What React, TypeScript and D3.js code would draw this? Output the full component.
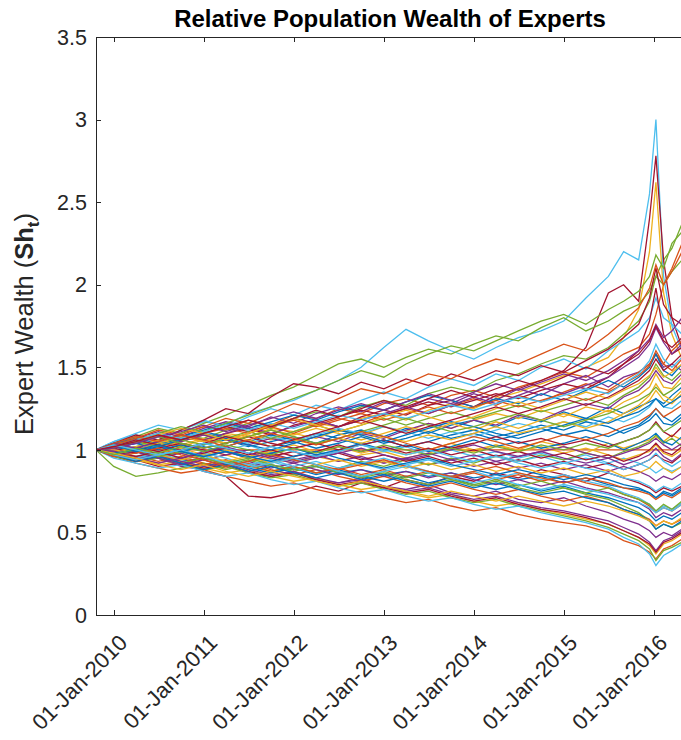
import * as d3 from 'd3';
import React from 'react';

// sample dates (quarterly, then denser near the early-2016 spike)
const sampleDates = [
  '2009-10-21', '2010-01-01', '2010-04-01', '2010-07-01', '2010-10-01',
  '2011-01-01', '2011-04-01', '2011-07-01', '2011-10-01',
  '2012-01-01', '2012-04-01', '2012-07-01', '2012-10-01',
  '2013-01-01', '2013-04-01', '2013-07-01', '2013-10-01',
  '2014-01-01', '2014-04-01', '2014-07-01', '2014-10-01',
  '2015-01-01', '2015-04-01', '2015-07-01', '2015-09-01', '2015-11-01', '2015-12-15',
  '2016-01-10', '2016-02-10', '2016-03-15', '2016-04-25'
];

const expert01 = [1.00,0.98,0.95,0.97,0.93,0.95,0.92,0.89,0.91,0.88,0.90,0.86,0.88,0.85,0.87,0.84,0.86,0.83,0.85,0.82,0.84,0.80,0.83,0.79,0.77,0.76,0.74,0.71,0.75,0.73,0.77];
const expert02 = [1.00,1.04,1.08,1.05,1.10,1.14,1.12,1.18,1.15,1.21,1.19,1.25,1.22,1.28,1.31,1.27,1.33,1.36,1.32,1.38,1.42,1.47,1.44,1.52,1.58,1.62,1.70,1.82,2.00,2.10,2.25];
const expert03 = [1.00,1.02,1.05,1.03,1.07,1.06,1.10,1.08,1.13,1.11,1.16,1.14,1.19,1.22,1.18,1.24,1.28,1.25,1.31,1.35,1.40,1.45,1.50,1.56,1.68,1.85,2.20,2.62,1.95,1.70,1.55];
const expert04 = [1.00,0.96,0.93,0.95,0.90,0.88,0.91,0.86,0.84,0.87,0.82,0.80,0.83,0.78,0.76,0.79,0.74,0.72,0.75,0.70,0.68,0.71,0.66,0.62,0.58,0.55,0.51,0.47,0.50,0.48,0.52];
const expert05 = [1.00,1.03,1.01,1.06,1.09,1.07,1.12,1.16,1.13,1.19,1.23,1.20,1.26,1.30,1.27,1.34,1.38,1.35,1.42,1.46,1.52,1.57,1.55,1.62,1.70,1.78,1.90,2.05,2.15,2.22,2.37];
const expert06 = [1.00,1.05,1.09,1.06,1.12,1.17,1.15,1.22,1.26,1.30,1.36,1.42,1.50,1.62,1.73,1.66,1.60,1.55,1.62,1.68,1.72,1.78,1.92,2.05,2.20,2.15,2.55,3.00,2.05,1.75,1.60];
const expert07 = [1.00,1.02,0.99,1.04,1.08,1.05,1.10,1.13,1.09,1.15,1.18,1.14,1.20,1.24,1.21,1.27,1.30,1.26,1.33,1.37,1.42,1.48,1.62,1.95,2.00,1.90,2.40,2.78,2.15,1.80,1.62];
const expert08 = [1.00,1.01,1.04,1.02,0.99,1.03,1.06,1.02,1.05,1.08,1.04,1.09,1.12,1.08,1.13,1.10,1.15,1.18,1.14,1.20,1.17,1.23,1.19,1.26,1.22,1.26,1.29,1.31,1.28,1.33,1.38];
const expert09 = [1.00,1.00,1.00,1.00,1.00,1.00,1.00,1.00,1.00,1.00,1.00,1.00,1.00,1.00,1.00,1.00,1.00,1.00,1.00,1.00,1.00,1.00,1.00,1.00,1.00,1.00,1.00,1.00,1.00,1.00,1.00];
const expert10 = [1.00,0.97,1.00,0.96,0.98,0.94,0.97,0.93,0.95,0.92,0.96,0.93,0.97,0.99,0.95,0.98,1.02,0.99,1.03,1.00,1.05,1.02,0.98,1.04,1.01,1.04,1.06,1.08,1.05,1.09,1.06];
const expert11 = [1.00,1.03,1.07,1.11,1.08,1.13,1.17,1.14,1.20,1.16,1.22,1.26,1.23,1.29,1.25,1.31,1.28,1.34,1.30,1.37,1.33,1.40,1.45,1.38,1.44,1.47,1.52,1.58,1.50,1.52,1.48];
const expert12 = [1.00,1.04,1.08,1.13,1.10,1.16,1.21,1.27,1.33,1.38,1.45,1.52,1.55,1.50,1.56,1.61,1.58,1.64,1.69,1.66,1.74,1.80,1.72,1.78,1.84,1.88,1.96,2.05,2.00,2.08,2.15];
const expert13 = [1.00,0.99,1.02,1.05,1.01,1.04,1.00,1.03,0.98,1.01,0.97,1.00,1.03,0.99,1.02,0.97,1.00,0.96,0.99,0.95,0.98,0.94,0.97,0.92,0.95,0.92,0.89,0.86,0.89,0.87,0.90];
const expert14 = [1.00,0.98,0.94,0.90,0.92,0.87,0.84,0.72,0.71,0.74,0.78,0.75,0.80,0.77,0.82,0.79,0.84,0.81,0.86,0.83,0.88,0.85,0.81,0.86,0.83,0.80,0.77,0.74,0.77,0.75,0.78];
const expert15 = [1.00,1.02,1.06,1.03,1.07,1.11,1.08,1.05,1.09,1.06,1.10,1.07,1.03,1.06,1.02,1.05,1.09,1.12,1.08,1.11,1.15,1.12,1.17,1.14,1.10,1.14,1.18,1.22,1.16,1.15,1.20];
const expert16 = [1.00,0.99,0.96,0.93,0.96,0.92,0.89,0.92,0.88,0.85,0.88,0.84,0.81,0.84,0.80,0.77,0.80,0.76,0.73,0.76,0.72,0.69,0.72,0.68,0.64,0.61,0.58,0.54,0.57,0.55,0.58];
const expert17 = [1.00,1.02,1.00,1.04,1.02,1.06,1.04,1.09,1.06,1.10,1.07,1.12,1.09,1.14,1.11,1.16,1.13,1.18,1.22,1.19,1.24,1.20,1.26,1.23,1.29,1.33,1.38,1.46,1.38,1.37,1.44];
const expert18 = [1.00,0.98,1.01,0.97,1.00,0.96,0.99,0.95,0.98,0.94,0.97,0.93,0.96,0.92,0.95,0.91,0.94,0.90,0.93,0.89,0.92,0.88,0.91,0.87,0.90,0.87,0.84,0.81,0.84,0.82,0.86];
const expert19 = [1.00,0.90,0.84,0.86,0.89,0.92,0.88,0.91,0.87,0.90,0.86,0.89,0.93,0.90,0.94,0.91,0.95,0.92,0.96,0.93,0.97,0.94,0.98,0.95,0.99,1.02,1.05,1.09,1.04,1.07,1.02];
const expert20 = [1.00,1.05,1.10,1.15,1.12,1.18,1.14,1.20,1.25,1.21,1.27,1.24,1.30,1.35,1.31,1.38,1.43,1.39,1.46,1.42,1.50,1.55,1.49,1.60,1.66,1.72,1.80,1.92,1.80,1.76,1.70];
const expert21 = [1.00,1.04,1.09,1.06,1.12,1.18,1.25,1.22,1.32,1.40,1.38,1.34,1.41,1.37,1.43,1.39,1.46,1.42,1.48,1.45,1.51,1.47,1.54,1.61,1.68,1.76,1.92,2.10,1.88,1.80,1.76];
const expert22 = [1.00,0.97,0.94,0.97,0.93,0.90,0.93,0.89,0.86,0.89,0.85,0.88,0.84,0.81,0.84,0.80,0.83,0.79,0.76,0.79,0.75,0.78,0.74,0.71,0.68,0.65,0.61,0.57,0.60,0.58,0.62];
const expert23 = [1.00,1.03,1.06,1.02,1.05,1.09,1.06,1.10,1.14,1.10,1.15,1.19,1.16,1.21,1.25,1.22,1.27,1.31,1.27,1.33,1.29,1.35,1.40,1.36,1.42,1.47,1.52,1.58,1.52,1.60,1.66];
const expert24 = [1.00,0.98,0.95,0.98,1.01,0.97,1.00,0.96,0.99,1.03,0.99,1.02,0.98,1.01,0.97,1.00,1.04,1.00,1.03,0.99,1.02,0.98,1.01,0.97,0.94,0.97,0.99,1.03,0.98,0.96,1.00];
const expert25 = [1.00,1.02,1.05,1.08,1.05,1.09,1.06,1.03,1.07,1.04,1.08,1.05,1.10,1.07,1.12,1.16,1.13,1.18,1.15,1.21,1.18,1.24,1.28,1.25,1.32,1.36,1.42,1.48,1.42,1.40,1.46];
const expert26 = [1.00,0.97,0.99,0.95,0.92,0.95,0.91,0.94,0.90,0.87,0.90,0.86,0.83,0.86,0.82,0.79,0.82,0.78,0.81,0.77,0.74,0.77,0.73,0.70,0.66,0.62,0.57,0.52,0.55,0.53,0.56];
const expert27 = [1.00,1.01,0.98,1.02,0.99,1.03,1.07,1.04,1.08,1.05,1.09,1.13,1.10,1.14,1.11,1.07,1.11,1.08,1.12,1.16,1.13,1.17,1.14,1.20,1.17,1.21,1.26,1.31,1.26,1.25,1.30];
const expert28 = [1.00,0.99,1.02,0.99,1.03,1.00,0.97,1.00,0.96,0.99,0.95,0.98,0.94,0.97,0.93,0.96,0.92,0.95,0.91,0.94,0.90,0.93,0.89,0.92,0.88,0.91,0.94,0.97,0.94,0.92,0.97];
const expert29 = [1.00,1.02,0.99,0.96,0.99,1.02,0.99,0.95,0.98,1.01,0.97,1.00,1.04,1.00,1.03,0.99,1.02,1.06,1.02,1.05,1.01,1.04,1.08,1.04,1.00,1.04,1.07,1.10,1.05,1.03,1.08];
const expert30 = [1.00,0.96,0.92,0.89,0.86,0.88,0.84,0.81,0.78,0.80,0.76,0.73,0.75,0.71,0.68,0.70,0.66,0.63,0.65,0.61,0.58,0.56,0.54,0.50,0.45,0.42,0.38,0.34,0.40,0.42,0.46];
const expert31 = [1.00,0.97,0.94,0.91,0.93,0.89,0.86,0.88,0.84,0.81,0.83,0.79,0.76,0.78,0.74,0.71,0.73,0.69,0.66,0.68,0.64,0.61,0.58,0.55,0.51,0.47,0.42,0.37,0.43,0.45,0.49];
const expert32 = [1.00,0.98,0.95,0.97,0.93,0.90,0.92,0.88,0.85,0.87,0.83,0.80,0.82,0.78,0.75,0.77,0.73,0.70,0.72,0.68,0.65,0.63,0.60,0.57,0.53,0.49,0.44,0.39,0.45,0.47,0.51];
const expert33 = [1.00,0.96,0.93,0.95,0.91,0.88,0.90,0.86,0.83,0.85,0.81,0.78,0.80,0.76,0.73,0.75,0.71,0.68,0.70,0.66,0.63,0.60,0.57,0.53,0.49,0.45,0.40,0.33,0.39,0.41,0.44];
const expert34 = [1.00,0.95,0.92,0.89,0.91,0.87,0.84,0.86,0.82,0.79,0.81,0.77,0.74,0.76,0.72,0.69,0.71,0.67,0.64,0.66,0.62,0.59,0.56,0.52,0.47,0.43,0.37,0.30,0.36,0.39,0.43];
const expert35 = [1.00,0.97,0.93,0.96,0.92,0.89,0.91,0.87,0.84,0.86,0.82,0.79,0.81,0.77,0.74,0.76,0.72,0.69,0.71,0.67,0.64,0.62,0.59,0.55,0.51,0.47,0.43,0.38,0.44,0.46,0.50];
const expert36 = [1.00,1.04,1.07,1.04,1.08,1.12,1.16,1.13,1.17,1.21,1.18,1.23,1.27,1.24,1.29,1.33,1.30,1.26,1.31,1.28,1.34,1.30,1.36,1.42,1.38,1.44,1.50,1.58,1.48,1.45,1.52];
const expert37 = [1.00,1.03,1.07,1.12,1.09,1.14,1.19,1.16,1.22,1.28,1.25,1.31,1.37,1.34,1.40,1.46,1.43,1.50,1.55,1.52,1.58,1.64,1.60,1.70,1.78,1.86,1.98,2.12,2.00,2.08,2.20];
const expert38 = [1.00,0.99,1.02,1.06,1.03,1.07,1.04,1.08,1.12,1.09,1.13,1.10,1.06,1.10,1.14,1.11,1.16,1.12,1.17,1.13,1.18,1.22,1.18,1.24,1.20,1.25,1.30,1.36,1.30,1.28,1.34];
const expert39 = [1.00,0.97,0.99,0.95,0.98,0.94,0.97,1.00,0.96,0.93,0.96,0.99,0.95,0.92,0.95,0.98,0.94,0.97,0.93,0.96,0.99,0.95,0.92,0.95,0.91,0.94,0.97,1.01,0.96,0.93,0.98];
const expert40 = [1.00,1.03,1.06,1.10,1.14,1.11,1.16,1.21,1.26,1.31,1.36,1.42,1.48,1.44,1.52,1.58,1.63,1.60,1.66,1.72,1.78,1.82,1.76,1.85,1.90,1.96,2.05,2.18,2.10,2.25,2.32];
const expert41 = [1.00,0.98,0.95,0.98,0.94,0.97,0.93,0.90,0.93,0.89,0.86,0.89,0.92,0.88,0.91,0.87,0.84,0.87,0.83,0.86,0.82,0.85,0.81,0.78,0.74,0.71,0.67,0.63,0.66,0.64,0.68];
const expert42 = [1.00,1.02,1.05,1.09,1.06,1.10,1.14,1.11,1.15,1.19,1.16,1.20,1.24,1.21,1.25,1.29,1.26,1.30,1.34,1.31,1.36,1.40,1.37,1.44,1.52,1.60,1.78,1.98,1.70,1.58,1.62];
const expert43 = [1.00,1.01,1.04,1.00,1.03,0.99,1.02,1.06,1.02,1.05,1.01,1.04,1.08,1.04,1.07,1.11,1.07,1.10,1.06,1.09,1.13,1.09,1.12,1.08,1.12,1.15,1.20,1.25,1.20,1.17,1.22];
const expert44 = [1.00,0.98,0.95,0.92,0.95,0.91,0.94,0.90,0.87,0.90,0.86,0.89,0.85,0.88,0.84,0.87,0.83,0.86,0.82,0.85,0.81,0.84,0.80,0.77,0.73,0.70,0.66,0.62,0.65,0.63,0.67];
const expert45 = [1.00,1.03,1.00,1.04,1.08,1.05,1.09,1.06,1.02,1.06,1.03,1.07,1.04,1.08,1.05,1.09,1.06,1.10,1.14,1.10,1.13,1.17,1.13,1.17,1.22,1.27,1.33,1.40,1.33,1.30,1.36];
const expert46 = [1.00,0.96,0.99,0.95,0.91,0.94,0.90,0.93,0.89,0.92,0.88,0.85,0.88,0.84,0.87,0.83,0.86,0.82,0.79,0.82,0.78,0.81,0.77,0.74,0.71,0.68,0.64,0.59,0.62,0.60,0.64];
const expert47 = [1.00,1.02,1.05,1.02,1.06,1.03,1.07,1.11,1.07,1.11,1.15,1.11,1.15,1.19,1.15,1.19,1.23,1.19,1.23,1.27,1.23,1.27,1.31,1.27,1.33,1.38,1.44,1.52,1.45,1.42,1.48];
const expert48 = [1.00,0.99,0.96,0.99,0.95,0.98,0.95,0.91,0.94,0.90,0.93,0.89,0.92,0.95,0.91,0.94,0.90,0.93,0.97,0.93,0.96,0.92,0.95,0.91,0.88,0.91,0.94,0.98,0.93,0.90,0.94];
const expert49 = [1.00,1.01,0.98,1.01,1.04,1.01,1.04,1.08,1.04,1.01,1.04,1.00,1.03,1.06,1.02,1.05,1.01,1.04,1.08,1.04,1.07,1.03,1.06,1.02,1.05,1.08,1.12,1.17,1.11,1.08,1.14];
const expert50 = [1.00,0.97,0.93,0.96,0.92,0.88,0.91,0.87,0.90,0.86,0.83,0.86,0.82,0.85,0.81,0.78,0.81,0.77,0.80,0.76,0.73,0.75,0.71,0.68,0.64,0.61,0.57,0.52,0.55,0.53,0.57];
const expert51 = [1.00,1.03,1.06,1.09,1.06,1.10,1.13,1.10,1.14,1.18,1.14,1.18,1.22,1.18,1.22,1.26,1.22,1.26,1.30,1.26,1.30,1.34,1.30,1.35,1.40,1.45,1.51,1.60,1.52,1.48,1.55];
const expert52 = [1.00,0.98,1.01,0.97,0.94,0.97,0.93,0.96,0.92,0.95,0.91,0.94,0.90,0.93,0.89,0.92,0.88,0.91,0.87,0.90,0.86,0.89,0.85,0.88,0.84,0.86,0.89,0.93,0.89,0.86,0.90];
const expert53 = [1.00,1.04,1.01,1.05,1.09,1.06,1.10,1.14,1.10,1.14,1.18,1.14,1.18,1.22,1.26,1.22,1.27,1.32,1.28,1.33,1.38,1.34,1.39,1.44,1.50,1.56,1.64,1.74,1.65,1.58,1.64];
const expert54 = [1.00,0.97,1.00,0.96,0.99,0.95,0.92,0.95,0.91,0.88,0.91,0.87,0.84,0.87,0.83,0.86,0.82,0.79,0.82,0.78,0.81,0.77,0.74,0.77,0.73,0.70,0.67,0.63,0.67,0.64,0.69];
const expert55 = [1.00,1.02,1.06,1.10,1.07,1.11,1.15,1.12,1.16,1.13,1.17,1.21,1.18,1.22,1.19,1.23,1.27,1.24,1.28,1.32,1.29,1.33,1.37,1.34,1.40,1.46,1.54,1.64,1.55,1.50,1.56];
const expert56 = [1.00,0.99,0.96,0.99,0.95,0.98,1.01,0.97,1.00,0.96,0.99,1.03,0.99,1.02,0.98,1.01,0.97,1.00,0.96,0.99,0.95,0.98,0.94,0.97,0.93,0.96,1.00,1.04,0.99,0.97,1.02];
const expert57 = [1.00,1.03,0.99,1.02,1.06,1.10,1.07,1.03,1.00,1.04,1.08,1.12,1.09,1.05,1.09,1.13,1.17,1.14,1.10,1.07,1.11,1.15,1.19,1.16,1.20,1.23,1.27,1.31,1.26,1.29,1.33];
const expert58 = [1.00,0.96,0.98,1.01,0.97,0.94,0.90,0.93,0.97,0.94,0.91,0.88,0.91,0.94,0.90,0.87,0.84,0.87,0.90,0.86,0.83,0.80,0.83,0.80,0.77,0.75,0.73,0.70,0.73,0.71,0.75];
const expert59 = [1.00,1.02,1.05,1.09,1.13,1.10,1.06,1.10,1.15,1.19,1.15,1.11,1.15,1.20,1.24,1.20,1.16,1.20,1.25,1.29,1.25,1.30,1.35,1.31,1.36,1.40,1.45,1.50,1.44,1.47,1.52];
const expert60 = [1.00,0.99,0.95,0.92,0.95,0.99,1.02,0.98,0.95,0.92,0.95,0.98,1.01,0.97,0.94,0.97,1.00,1.03,0.99,0.96,0.99,1.02,0.98,0.95,0.98,1.01,1.04,1.07,1.03,1.00,1.04];
const expert61 = [1.00,1.01,1.05,1.08,1.04,1.01,1.04,1.08,1.12,1.08,1.04,1.07,1.11,1.15,1.19,1.15,1.11,1.14,1.18,1.22,1.18,1.14,1.18,1.22,1.26,1.30,1.34,1.38,1.33,1.36,1.41];
const expert62 = [1.00,0.97,0.94,0.97,1.00,0.96,0.92,0.89,0.92,0.95,0.91,0.87,0.84,0.87,0.90,0.86,0.83,0.80,0.83,0.79,0.76,0.79,0.76,0.73,0.70,0.68,0.65,0.62,0.65,0.63,0.67];
const expert63 = [1.00,1.02,1.06,1.03,1.00,1.04,1.08,1.05,1.02,1.06,1.10,1.14,1.18,1.14,1.10,1.14,1.18,1.22,1.26,1.22,1.26,1.31,1.27,1.32,1.37,1.42,1.48,1.55,1.48,1.52,1.58];
const expert64 = [1.00,0.98,1.00,1.03,0.99,0.96,0.99,0.96,0.93,0.96,0.99,0.95,0.92,0.89,0.92,0.95,0.91,0.88,0.85,0.88,0.85,0.82,0.85,0.82,0.79,0.77,0.74,0.71,0.74,0.72,0.76];
const expert65 = [1.00,1.04,1.08,1.05,1.09,1.06,1.02,1.06,1.10,1.07,1.03,1.07,1.11,1.08,1.04,1.00,1.04,1.08,1.05,1.01,1.05,1.09,1.06,1.10,1.14,1.17,1.21,1.25,1.20,1.23,1.27];
const expert66 = [1.00,0.98,0.95,0.91,0.88,0.91,0.87,0.84,0.87,0.84,0.81,0.78,0.81,0.78,0.75,0.72,0.75,0.72,0.69,0.72,0.69,0.66,0.69,0.66,0.63,0.60,0.57,0.54,0.57,0.55,0.59];
const expert67 = [1.00,1.01,1.04,1.08,1.11,1.15,1.11,1.15,1.19,1.23,1.19,1.24,1.28,1.24,1.29,1.34,1.30,1.35,1.40,1.36,1.41,1.46,1.42,1.48,1.54,1.60,1.67,1.76,1.68,1.72,1.80];
const expert68 = [1.00,0.97,1.01,0.98,1.02,0.99,1.03,1.00,0.97,1.01,0.98,1.02,0.99,1.03,1.00,0.97,1.01,0.98,1.02,0.99,1.03,1.00,1.04,1.01,1.05,1.08,1.12,1.16,1.11,1.14,1.18];
const expert69 = [1.00,1.03,1.00,0.97,1.00,1.04,1.01,0.98,1.02,0.99,0.96,0.99,1.03,1.00,0.97,1.00,0.96,0.93,0.96,0.92,0.89,0.92,0.89,0.86,0.83,0.81,0.78,0.75,0.78,0.76,0.80];
const expert70 = [1.00,1.02,1.05,1.09,1.06,1.10,1.14,1.18,1.14,1.19,1.24,1.20,1.25,1.30,1.26,1.31,1.36,1.32,1.37,1.42,1.38,1.44,1.50,1.46,1.52,1.58,1.66,1.75,1.66,1.62,1.68];

const experts = [
  expert01, expert02, expert03, expert04, expert05, expert06, expert07, expert08, expert09, expert10,
  expert11, expert12, expert13, expert14, expert15, expert16, expert17, expert18, expert19, expert20,
  expert21, expert22, expert23, expert24, expert25, expert26, expert27, expert28, expert29, expert30,
  expert31, expert32, expert33, expert34, expert35, expert36, expert37, expert38, expert39, expert40,
  expert41, expert42, expert43, expert44, expert45, expert46, expert47, expert48, expert49, expert50,
  expert51, expert52, expert53, expert54, expert55, expert56, expert57, expert58, expert59, expert60,
  expert61, expert62, expert63, expert64, expert65, expert66, expert67, expert68, expert69, expert70
];

const xTickDates = ['2010-01-01', '2011-01-01', '2012-01-01', '2013-01-01', '2014-01-01', '2015-01-01', '2016-01-01'];
const xTickLabels = ['01-Jan-2010', '01-Jan-2011', '01-Jan-2012', '01-Jan-2013', '01-Jan-2014', '01-Jan-2015', '01-Jan-2016'];
const yTicks = [0, 0.5, 1, 1.5, 2, 2.5, 3, 3.5];
const yTickLabels = ['0', '0.5', '1', '1.5', '2', '2.5', '3', '3.5'];

// matlab default line colour order
const lineColors = ['#0072BD', '#D95319', '#EDB120', '#7E2F8E', '#77AC30', '#4DBEEE', '#A2142F'];

const width = 681;
const height = 740;
const margin = { top: 37, left: 96, bottom: 615, right: 685 };
const font = '"Liberation Sans", Arial, Helvetica, sans-serif';
const axisColor = '#262626';

export default function App() {
  const parse = d3.timeParse('%Y-%m-%d');
  const dates = sampleDates.map(d => parse(d) as Date);

  const x = d3.scaleTime()
    .domain([parse('2010-01-01') as Date, parse('2016-01-01') as Date])
    .range([113.7, 653.7]);
  const y = d3.scaleLinear().domain([0, 3.5]).range([margin.bottom, margin.top]);

  const line = d3.line<number>()
    .x((d, i) => x(dates[i]))
    .y(d => y(d));

  const tickLen = 5;

  return (
    <svg width={width} height={height} style={{ position: 'absolute', left: 0, top: 0, background: '#fff' }}
      fontFamily={font}>
      <defs>
        <clipPath id="plotClip">
          <rect x={margin.left} y={margin.top} width={margin.right - margin.left} height={margin.bottom - margin.top} />
        </clipPath>
      </defs>

      <g clipPath="url(#plotClip)" fill="none">
        {experts.map((s, i) => (
          <path key={i} d={line(s) || ''} stroke={lineColors[i % lineColors.length]} strokeWidth={1.3} />
        ))}
      </g>

      {/* box */}
      <g stroke={axisColor} strokeWidth={1} shapeRendering="crispEdges" fill="none">
        <line x1={margin.left} x2={margin.right} y1={margin.bottom} y2={margin.bottom} />
        <line x1={margin.left} x2={margin.right} y1={margin.top} y2={margin.top} />
        <line x1={margin.left} x2={margin.left} y1={margin.top} y2={margin.bottom} />
        {xTickDates.map(d => {
          const xx = Math.round(x(parse(d) as Date));
          return (
            <g key={d}>
              <line x1={xx} x2={xx} y1={margin.bottom} y2={margin.bottom - tickLen} />
              <line x1={xx} x2={xx} y1={margin.top} y2={margin.top + tickLen} />
            </g>
          );
        })}
        {yTicks.map(t => (
          <line key={t} x1={margin.left} x2={margin.left + tickLen} y1={Math.round(y(t))} y2={Math.round(y(t))} />
        ))}
      </g>

      {/* y tick labels */}
      <g fill={axisColor} fontSize={21.5} textAnchor="end">
        {yTicks.map((t, i) => (
          <text key={t} x={87} y={y(t)} dy="0.36em">{yTickLabels[i]}</text>
        ))}
      </g>

      {/* x tick labels, rotated */}
      <g fill={axisColor} fontSize={22} textAnchor="end">
        {xTickDates.map((d, i) => {
          const xx = x(parse(d) as Date);
          return (
            <text key={d} transform={`translate(${xx + 15},${margin.bottom + 29}) rotate(-45)`}>{xTickLabels[i]}</text>
          );
        })}
      </g>

      {/* y label */}
      <text transform={`translate(33,${324}) rotate(-90)`} textAnchor="middle" fontSize={25.5} fill={axisColor}>
        Expert Wealth (<tspan fontWeight="bold">Sh</tspan><tspan fontWeight="bold" fontSize={17} dy={6}>t</tspan><tspan dy={-6}>)</tspan>
      </text>

      {/* title */}
      <text x={390} y={27} textAnchor="middle" fontSize={24} fontWeight="bold" fill="#000">
        Relative Population Wealth of Experts
      </text>
    </svg>
  );
}
